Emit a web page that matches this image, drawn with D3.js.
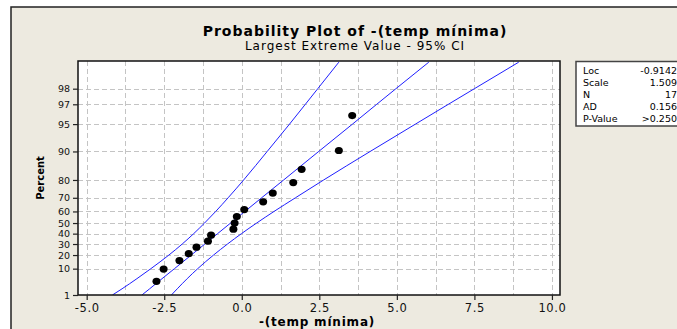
<!DOCTYPE html>
<html>
<head>
<meta charset="utf-8">
<script src="https://cdn.jsdelivr.net/npm/d3@7"></script>
<style>
  body { margin: 0; background: #fff; }
  text { font-family: "DejaVu Sans", Verdana, sans-serif; }
</style>
</head>
<body>
<div id="chart"></div>
<script>
// data
const POINT_X = [-2.75, -2.52, -2.01, -1.71, -1.46, -1.09, -0.99, -0.27, -0.23, -0.16, 0.08, 0.69, 1.00, 1.66, 1.93, 3.13, 3.56]
const POINT_PCT = [4.02, 9.77, 15.52, 21.26, 27.01, 32.76, 38.51, 44.25, 50.00, 55.75, 61.49, 67.24, 72.99, 78.74, 84.48, 90.23, 95.98]

// percent levels where the fitted line and the 95% CI curves were read
const CURVE_PCT = [1, 2, 5, 10, 20, 30, 40, 50, 60, 70, 80, 90, 95, 97, 98, 99]
const FIT_X = [-3.22, -2.97, -2.57, -2.17, -1.63, -1.19, -0.78, -0.36, 0.10, 0.64, 1.35, 2.48, 3.57, 4.35, 4.97, 6.03]
const CI_LOW_X = [-4.17, -3.86, -3.38, -2.93, -2.35, -1.92, -1.55, -1.20, -0.84, -0.44, 0.06, 0.82, 1.54, 2.05, 2.45, 3.13]
const CI_HIGH_X = [-2.27, -2.08, -1.76, -1.42, -0.91, -0.46, -0.01, 0.48, 1.04, 1.73, 2.64, 4.14, 5.60, 6.66, 7.50, 8.93]

const X_TICKS = [-5, -2.5, 0, 2.5, 5, 7.5, 10]
const X_GRID = [-5, -3.75, -2.5, -1.25, 0, 1.25, 2.5, 3.75, 5, 6.25, 7.5, 8.75, 10]
const Y_TICKS = [1, 10, 20, 30, 40, 50, 60, 70, 80, 90, 95, 97, 98]

const STAT_LABELS = ["Loc", "Scale", "N", "AD", "P-Value"]
const STAT_VALUES = ["-0.9142", "1.509", "17", "0.156", ">0.250"]

const W = 677, H = 329
const plot = {left: 78, top: 61, right: 560, bottom: 295}

// largest extreme value probability paper
function lev(p){ return -Math.log(-Math.log(p / 100)) }

const svg = d3.select("#chart").append("svg")
  .attr("width", W)
  .attr("height", H)

// outer frame
svg.append("rect")
  .attr("x", 11).attr("y", 7)
  .attr("width", 720).attr("height", 340)
  .attr("fill", "#edeae0")
  .attr("stroke", "#222")
  .attr("stroke-width", 1.5)

const x = d3.scaleLinear()
  .domain([-5.28, 10.26])
  .range([plot.left, plot.right])

const y = d3.scaleLinear()
  .domain([lev(1), lev(99.03)])
  .range([plot.bottom, plot.top])

svg.append("rect")
  .attr("x", plot.left).attr("y", plot.top)
  .attr("width", plot.right - plot.left)
  .attr("height", plot.bottom - plot.top)
  .attr("fill", "#fff")

svg.append("clipPath").attr("id", "clip")
  .append("rect")
  .attr("x", plot.left).attr("y", plot.top)
  .attr("width", plot.right - plot.left)
  .attr("height", plot.bottom - plot.top)

// grid
const grid = svg.append("g")
  .attr("stroke", "#c4c4c4")
  .attr("stroke-dasharray", "5,3")
  .attr("stroke-width", 1)

grid.selectAll(".vg")
  .data(X_GRID)
  .enter()
  .append("line")
    .attr("x1", d => Math.round(x(d)) + 0.5)
    .attr("x2", d => Math.round(x(d)) + 0.5)
    .attr("y1", plot.top)
    .attr("y2", plot.bottom)

grid.selectAll(".hg")
  .data(Y_TICKS.slice(1))
  .enter()
  .append("line")
    .attr("x1", plot.left)
    .attr("x2", plot.right)
    .attr("y1", d => Math.round(y(lev(d))) + 0.5)
    .attr("y2", d => Math.round(y(lev(d))) + 0.5)

// fit and CI curves
const lineGen = d3.line()
  .x(d => x(d[0]))
  .y(d => y(lev(d[1])))
  .curve(d3.curveMonotoneY)

const curves = [FIT_X, CI_LOW_X, CI_HIGH_X]

svg.append("g")
  .attr("clip-path", "url(#clip)")
  .selectAll("path")
  .data(curves)
  .enter()
  .append("path")
    .attr("d", d => lineGen(d.map((v, i) => [v, CURVE_PCT[i]])))
    .attr("fill", "none")
    .attr("stroke", "#1f1fff")
    .attr("stroke-width", 1)

// points
svg.append("g")
  .selectAll("ellipse")
  .data(POINT_X)
  .enter()
  .append("ellipse")
    .attr("cx", d => x(d))
    .attr("cy", (d, i) => y(lev(POINT_PCT[i])))
    .attr("rx", 4)
    .attr("ry", 3.6)
    .attr("fill", "#000")

// plot border
svg.append("rect")
  .attr("x", plot.left).attr("y", plot.top)
  .attr("width", plot.right - plot.left)
  .attr("height", plot.bottom - plot.top)
  .attr("fill", "none")
  .attr("stroke", "#111")
  .attr("stroke-width", 1.5)

// axes
const xAxis = svg.append("g")
  .attr("transform", "translate(0," + plot.bottom + ")")
  .call(d3.axisBottom(x)
    .tickValues(X_TICKS)
    .tickSize(5)
    .tickFormat(d => d.toFixed(1)))
xAxis.select(".domain").remove()
xAxis.selectAll("line").attr("stroke", "#222").attr("stroke-width", 1.2)
xAxis.selectAll("text")
  .attr("font-family", "DejaVu Sans")
  .attr("font-size", 11.5)
  .attr("letter-spacing", 0.6)
  .attr("fill", "#111")
  .attr("dy", "0.75em")

const yAxis = svg.append("g")
  .attr("transform", "translate(" + plot.left + ",0)")
  .call(d3.axisLeft(y)
    .tickValues(Y_TICKS.map(lev))
    .tickSize(5)
    .tickPadding(3)
    .tickFormat((d, i) => Y_TICKS[i]))
yAxis.select(".domain").remove()
yAxis.selectAll("line").attr("stroke", "#222").attr("stroke-width", 1.2)
yAxis.selectAll("text")
  .attr("font-family", "DejaVu Sans")
  .attr("font-size", 9.5)
  .attr("fill", "#111")

// titles
svg.append("text")
  .attr("x", 355).attr("y", 36)
  .attr("text-anchor", "middle")
  .attr("font-size", 14)
  .attr("letter-spacing", 1)
  .attr("font-weight", "bold")
  .text("Probability Plot of -(temp mínima)")

svg.append("text")
  .attr("x", 355).attr("y", 49.5)
  .attr("text-anchor", "middle")
  .attr("font-size", 12)
  .attr("letter-spacing", 1)
  .text("Largest Extreme Value - 95% CI")

svg.append("text")
  .attr("x", 317).attr("y", 325.5)
  .attr("text-anchor", "middle")
  .attr("font-size", 12)
  .attr("letter-spacing", 0.8)
  .attr("font-weight", "bold")
  .text("-(temp mínima)")

svg.append("text")
  .attr("transform", "translate(44,178) rotate(-90)")
  .attr("text-anchor", "middle")
  .attr("font-size", 10)
  .attr("font-weight", "bold")
  .text("Percent")

// stats box
const box = svg.append("g")
box.append("rect")
  .attr("x", 576).attr("y", 61.5)
  .attr("width", 130).attr("height", 64.5)
  .attr("fill", "#fff")
  .attr("stroke", "#444")
  .attr("stroke-width", 1.5)

box.selectAll(".lab")
  .data(STAT_LABELS)
  .enter()
  .append("text")
    .attr("x", 583)
    .attr("y", (d, i) => 73.5 + i * 12)
    .attr("font-size", 9.5)
    .text(d => d)

box.selectAll(".val")
  .data(STAT_VALUES)
  .enter()
  .append("text")
    .attr("x", 677)
    .attr("y", (d, i) => 73.5 + i * 12)
    .attr("text-anchor", "end")
    .attr("font-size", 9.5)
    .text(d => d)
</script>
</body>
</html>
